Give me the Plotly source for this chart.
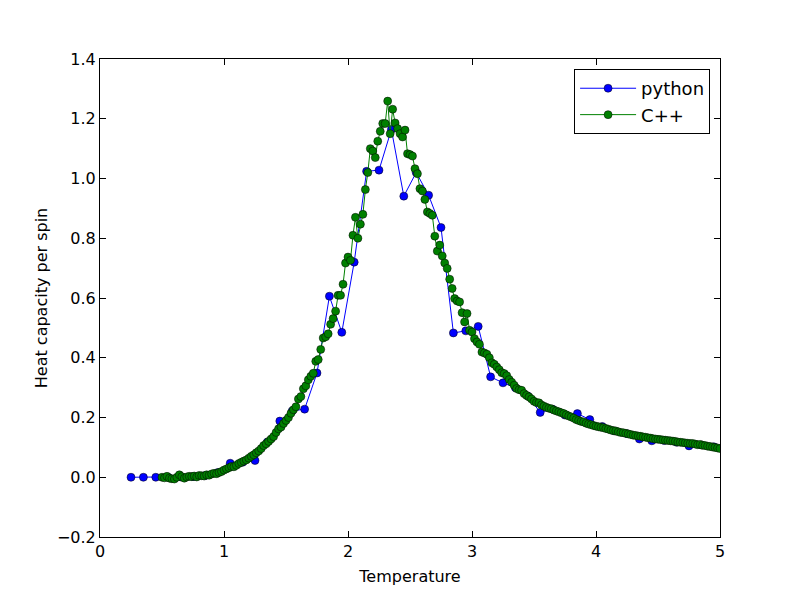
import plotly.graph_objects as go

# python run: temperatures 0.25 .. 4.95, step 0.1
py_t_start = 0.25
py_t_step = 0.1
py_heat_capacity = [
    0.000, 0.000, 0.000, 0.000, 0.001, 0.002, 0.006, 0.016, 0.047, 0.050,
    0.056, 0.118, 0.188, 0.222, 0.228, 0.349, 0.606, 0.485, 0.720, 1.024,
    1.028, 1.164, 0.941, 1.020, 0.944, 0.836, 0.483, 0.490, 0.505, 0.336,
    0.316, 0.300, 0.272, 0.217, 0.228, 0.208, 0.213, 0.193, 0.170, 0.155,
    0.146, 0.128, 0.122, 0.123, 0.117, 0.105, 0.108, 0.102,
]

# C++ run: temperatures 0.50 .. 5.00, step 0.02
cpp_t_start = 0.5
cpp_t_step = 0.02
cpp_heat_capacity = [
    0.000, -0.002, 0.003, -0.003, -0.005, -0.006, 0.000, 0.008, 0.002, -0.003,
    0.001, 0.003, 0.002, 0.004, 0.001, 0.006, 0.005, 0.004, 0.008, 0.007,
    0.011, 0.013, 0.012, 0.016, 0.019, 0.024, 0.028, 0.032, 0.036, 0.035,
    0.040, 0.046, 0.050, 0.054, 0.058, 0.064, 0.070, 0.075, 0.082, 0.088,
    0.096, 0.106, 0.112, 0.120, 0.128, 0.136, 0.150, 0.162, 0.168, 0.180,
    0.190, 0.200, 0.214, 0.226, 0.236, 0.262, 0.270, 0.296, 0.306, 0.326,
    0.338, 0.348, 0.388, 0.394, 0.428, 0.466, 0.470, 0.480, 0.512, 0.531,
    0.556, 0.609, 0.609, 0.646, 0.717, 0.737, 0.726, 0.810, 0.870, 0.800,
    0.847, 0.880, 0.963, 1.020, 1.100, 1.092, 1.070, 1.125, 1.158, 1.184,
    1.184, 1.259, 1.150, 1.232, 1.186, 1.167, 1.150, 1.139, 1.162, 1.083,
    1.080, 1.075, 1.033, 1.016, 0.966, 0.958, 0.930, 0.888, 0.883, 0.877,
    0.807, 0.757, 0.777, 0.741, 0.717, 0.699, 0.663, 0.632, 0.598, 0.590,
    0.587, 0.551, 0.520, 0.548, 0.492, 0.486, 0.464, 0.453, 0.445, 0.419,
    0.416, 0.412, 0.400, 0.383, 0.378, 0.369, 0.360, 0.350, 0.347, 0.340,
    0.327, 0.318, 0.308, 0.297, 0.293, 0.291, 0.280, 0.274, 0.269, 0.262,
    0.254, 0.250, 0.249, 0.242, 0.238, 0.234, 0.231, 0.229, 0.225, 0.222,
    0.219, 0.216, 0.213, 0.209, 0.205, 0.202, 0.198, 0.193, 0.190, 0.187,
    0.185, 0.181, 0.178, 0.176, 0.173, 0.171, 0.169, 0.167, 0.166, 0.163,
    0.161, 0.158, 0.156, 0.155, 0.152, 0.150, 0.149, 0.147, 0.145, 0.143,
    0.141, 0.140, 0.138, 0.137, 0.135, 0.134, 0.132, 0.131, 0.129, 0.128,
    0.127, 0.126, 0.125, 0.124, 0.123, 0.122, 0.121, 0.120, 0.118, 0.117,
    0.116, 0.115, 0.114, 0.113, 0.113, 0.111, 0.109, 0.110, 0.107, 0.106,
    0.104, 0.103, 0.101, 0.100, 0.098, 0.096,
]

fig = go.Figure()
fig.add_trace(go.Scatter(
    x0=py_t_start, dx=py_t_step, y=py_heat_capacity,
    mode="lines+markers", name="python",
    line=dict(color="#0000ff", width=1),
    marker=dict(color="#0000ff", size=8, line=dict(color="black", width=0.5)),
))
fig.add_trace(go.Scatter(
    x0=cpp_t_start, dx=cpp_t_step, y=cpp_heat_capacity,
    mode="lines+markers", name="C++",
    line=dict(color="#008000", width=1),
    marker=dict(color="#008000", size=8, line=dict(color="black", width=0.5)),
))

axis_style = dict(
    showgrid=False, zeroline=False,
    showline=True, linecolor="black", linewidth=1, mirror="ticks",
    ticks="inside", ticklen=6, tickcolor="black",
    tickfont=dict(size=16, color="black"),
)
fig.update_xaxes(range=[0, 5], dtick=1,
                 title=dict(text="Temperature", font=dict(size=16), standoff=10), **axis_style)
fig.update_yaxes(range=[-0.2, 1.4], dtick=0.2, tickformat=".1f",
                 title=dict(text="Heat capacity per spin", font=dict(size=16), standoff=5), **axis_style)

# the page body adds an 8px offset, so the margins are trimmed by that much
fig.update_layout(
    width=800, height=597,
    margin=dict(l=92, r=88, t=51, b=68),
    paper_bgcolor="white", plot_bgcolor="white",
    font=dict(family="DejaVu Sans", color="black"),
    legend=dict(x=0.984, y=0.979, xanchor="right", yanchor="top",
                bordercolor="black", borderwidth=1, bgcolor="white",
                itemwidth=56, font=dict(size=18)),
)

fig.write_html("out.html")
